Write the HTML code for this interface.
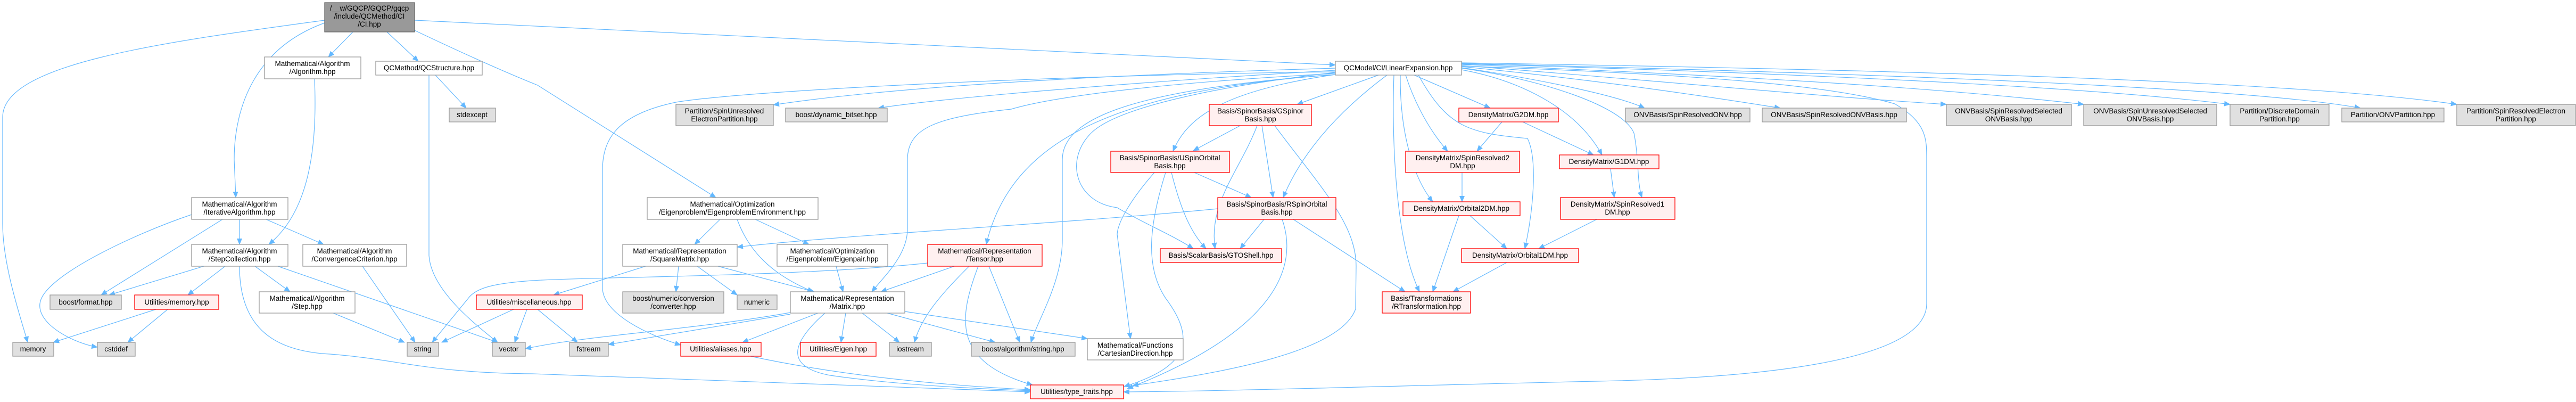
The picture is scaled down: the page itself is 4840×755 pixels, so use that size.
<!DOCTYPE html>
<html><head><meta charset="utf-8"><style>
html,body{margin:0;padding:0;background:#fff;}
svg{display:block;}
text{font-family:"Liberation Sans",sans-serif;font-size:13.5px;fill:#000;text-anchor:middle;}
.w{fill:#fff;stroke:#999;stroke-width:1.3;}
.g{fill:#e0e0e0;stroke:#999;stroke-width:1.3;}
.r{fill:#fff0f0;stroke:#f00;stroke-width:1.3;}
.m{fill:#999;stroke:#666;stroke-width:1.3;}
path{fill:none;stroke:#63b8ff;stroke-width:1.2;marker-end:url(#a);}
</style></head><body>
<svg width="4840" height="755" viewBox="0 0 4840 755" xmlns="http://www.w3.org/2000/svg">
<defs><marker id="a" markerUnits="userSpaceOnUse" markerWidth="12" markerHeight="10" refX="11" refY="5" orient="auto"><polygon points="0,0 12,5 0,10" fill="#63b8ff"/></marker></defs>
<g>
<!-- CI edges -->
<path d="M610,38 C300,80 5,120 5,220 L5,420 C5,500 40,600 52,643"/>
<path d="M610,43 C480,90 440,200 440,300 L443,371"/>
<path d="M663,60 L617,107"/>
<path d="M727,60 L786,115"/>
<path d="M779,57 C880,105 960,140 1010,160 L1345,371"/>
<path d="M779,38 L2509,122"/>
<!-- Iterative -->
<path d="M418,412 L190,554"/>
<path d="M360,403 C250,440 80,520 75,570 C70,610 140,645 183,652"/>
<path d="M450,412 L450,459"/>
<path d="M500,412 L608,459"/>
<path d="M591,148 C595,250 590,390 505,459"/>
<path d="M818,141 L876,203"/>
<path d="M806,141 L806,480 C810,540 880,600 935,643"/>
<!-- StepCollection -->
<path d="M383,500 L205,554"/>
<path d="M423,500 L353,554"/>
<path d="M479,500 L545,548"/>
<path d="M522,500 L935,643"/>
<path d="M450,500 C450,620 520,660 620,665 C750,675 800,700 1000,702 C1400,715 1700,730 1936,736"/>
<path d="M681,500 L780,643"/>
<path d="M626,588 L760,643"/>
<path d="M293,581 L100,643"/>
<path d="M315,581 L240,643"/>
<path d="M965,581 L830,643"/>
<path d="M990,581 L967,643"/>
<path d="M1010,581 L1085,643"/>
<path d="M1743,494 C1500,520 1100,520 1000,527 C930,532 895,540 880,560 L812,643"/>
<!-- SquareMatrix / EigenEnv -->
<path d="M1213,500 L1040,554"/>
<path d="M1275,500 L1270,548"/>
<path d="M1310,500 L1385,554"/>
<path d="M1349,500 L1530,548"/>
<path d="M1353,412 L1305,459"/>
<path d="M1419,412 L1520,459"/>
<path d="M1385,412 C1410,480 1460,520 1528,548"/>
<path d="M1571,500 L1584,548"/>
<!-- Tensor -->
<path d="M1793,500 L1655,548"/>
<path d="M1821,500 C1760,560 1730,600 1718,643"/>
<path d="M1858,500 L1916,643"/>
<path d="M1838,500 C1800,600 1790,680 1940,723"/>
<!-- Matrix -->
<path d="M1485,587 C1300,620 1100,630 987,655"/>
<path d="M1485,590 L1143,647"/>
<path d="M1537,588 L1395,643"/>
<path d="M1589,588 L1580,643"/>
<path d="M1620,588 L1690,643"/>
<path d="M1667,588 L1870,643"/>
<path d="M1700,585 L2043,636"/>
<path d="M1550,588 C1480,650 1480,690 1560,705 C1700,725 1850,730 1936,734"/>
<path d="M1410,669 C1600,710 1800,725 1936,732"/>
<!-- LinearExpansion left side -->
<path d="M2509,135 C2000,140 1400,170 1270,192 C1160,215 1132,260 1132,320 L1132,540 C1132,590 1220,630 1279,648"/>
<path d="M2509,138 C2100,160 1950,190 1900,205 C1760,220 1705,240 1705,300 L1705,430 C1705,480 1660,520 1638,548"/>
<path d="M2509,140 C2100,170 1900,260 1853,459"/>
<path d="M2509,140 C2100,170 1996,230 1996,300 L1996,450 C1996,530 1950,600 1937,643"/>
<path d="M2509,128 C2100,140 1700,160 1453,197"/>
<path d="M2509,132 C2200,150 1800,180 1650,203"/>
<path d="M2509,136 C2300,160 2100,200 2050,250 C2000,300 2020,380 2099,390 C2150,420 2200,440 2242,467"/>
<path d="M2509,140 C2300,170 2230,220 2204,284"/>
<path d="M2590,141 L2437,196"/>
<path d="M2606,141 C2500,220 2440,300 2411,371"/>
<path d="M2288,392 C2000,420 1600,440 1385,464"/>
<!-- Spinor bases -->
<path d="M2330,236 L2242,283"/>
<path d="M2371,236 L2392,371"/>
<path d="M2362,236 C2330,320 2270,380 2283,467"/>
<path d="M2395,236 C2480,350 2548,420 2548,500 L2547,580 C2520,660 2300,700 2128,724"/>
<path d="M2169,324 C2120,380 2100,420 2099,440 L2124,636"/>
<path d="M2190,324 C2160,420 2150,500 2190,560 C2250,640 2230,690 2112,726"/>
<path d="M2201,324 C2220,400 2240,440 2266,467"/>
<path d="M2244,324 L2351,371"/>
<path d="M2375,412 L2330,467"/>
<path d="M2430,412 L2640,548"/>
<path d="M2409,412 C2440,500 2400,620 2118,730"/>
<!-- Density matrices -->
<path d="M2619,141 C2615,250 2620,450 2667,548"/>
<path d="M2631,141 C2630,260 2660,340 2692,379"/>
<path d="M2641,141 C2660,200 2690,250 2720,284"/>
<path d="M2657,141 L2800,203"/>
<path d="M2665,141 C2720,240 2760,250 2870,260 C2890,300 2880,400 2865,467"/>
<path d="M2822,229 L2775,284"/>
<path d="M2861,229 L2994,291"/>
<path d="M2747,324 L2747,379"/>
<path d="M2741,405 L2692,548"/>
<path d="M2762,405 L2831,467"/>
<path d="M2831,493 L2730,548"/>
<path d="M3000,412 L2891,467"/>
<path d="M3026,317 L3033,371"/>
<path d="M2746,131 C2850,150 2960,200 3010,291"/>
<path d="M2746,128 C2900,150 3050,200 3070,250 C3080,300 3075,340 3085,371"/>
<!-- ONV / Partition -->
<path d="M2746,127 C2900,150 3040,180 3090,203"/>
<path d="M2746,125 C3000,150 3200,180 3345,203"/>
<path d="M2746,123 C3100,150 3400,180 3657,196"/>
<path d="M2746,121 C3200,140 3600,160 3915,196"/>
<path d="M2746,120 C3300,135 3900,160 4190,196"/>
<path d="M2746,119 C3400,135 4200,160 4435,203"/>
<path d="M2746,118 C3500,130 4300,150 4616,196"/>
<path d="M2746,124 C3200,140 3440,160 3560,195 C3620,230 3620,260 3620,300 L3620,570 C3620,680 3300,710 3000,716 C2600,725 2300,735 2111,736"/>
</g>
<!-- nodes -->
<g>
<rect class="m" x="610" y="5" width="169" height="55"/><text x="694" y="20">/__w/GQCP/GQCP/gqcp</text><text x="694" y="35">/include/QCMethod/CI</text><text x="694" y="50">/CI.hpp</text>
<rect class="w" x="497" y="107" width="181" height="41"/><text x="587" y="124">Mathematical/Algorithm</text><text x="587" y="139">/Algorithm.hpp</text>
<rect class="w" x="706" y="115" width="200" height="26"/><text x="806" y="132">QCMethod/QCStructure.hpp</text>
<rect class="g" x="844" y="203" width="87" height="26"/><text x="887" y="220">stdexcept</text>
<rect class="w" x="360" y="371" width="181" height="41"/><text x="450" y="388">Mathematical/Algorithm</text><text x="450" y="403">/IterativeAlgorithm.hpp</text>
<rect class="w" x="360" y="459" width="181" height="41"/><text x="450" y="476">Mathematical/Algorithm</text><text x="450" y="491">/StepCollection.hpp</text>
<rect class="w" x="569" y="459" width="195" height="41"/><text x="666" y="476">Mathematical/Algorithm</text><text x="666" y="491">/ConvergenceCriterion.hpp</text>
<rect class="g" x="94" y="554" width="134" height="27"/><text x="161" y="572">boost/format.hpp</text>
<rect class="r" x="253" y="554" width="158" height="27"/><text x="332" y="572">Utilities/memory.hpp</text>
<rect class="w" x="487" y="548" width="180" height="40"/><text x="577" y="565">Mathematical/Algorithm</text><text x="577" y="580">/Step.hpp</text>
<rect class="g" x="24" y="643" width="77" height="26"/><text x="62" y="660">memory</text>
<rect class="g" x="183" y="643" width="71" height="26"/><text x="218" y="660">cstddef</text>
<rect class="g" x="765" y="643" width="59" height="26"/><text x="794" y="660">string</text>
<rect class="g" x="925" y="643" width="62" height="26"/><text x="956" y="660">vector</text>
<rect class="r" x="895" y="554" width="199" height="27"/><text x="994" y="572">Utilities/miscellaneous.hpp</text>
<rect class="g" x="1270" y="196" width="183" height="40"/><text x="1361" y="213">Partition/SpinUnresolved</text><text x="1361" y="228">ElectronPartition.hpp</text>
<rect class="g" x="1476" y="203" width="191" height="26"/><text x="1571" y="220">boost/dynamic_bitset.hpp</text>
<rect class="w" x="1216" y="371" width="321" height="41"/><text x="1376" y="388">Mathematical/Optimization</text><text x="1376" y="403">/Eigenproblem/EigenproblemEnvironment.hpp</text>
<rect class="w" x="1170" y="459" width="215" height="41"/><text x="1277" y="476">Mathematical/Representation</text><text x="1277" y="491">/SquareMatrix.hpp</text>
<rect class="w" x="1460" y="459" width="208" height="41"/><text x="1564" y="476">Mathematical/Optimization</text><text x="1564" y="491">/Eigenproblem/Eigenpair.hpp</text>
<rect class="r" x="1743" y="459" width="215" height="41"/><text x="1850" y="476">Mathematical/Representation</text><text x="1850" y="491">/Tensor.hpp</text>
<rect class="g" x="1170" y="548" width="190" height="40"/><text x="1265" y="565">boost/numeric/conversion</text><text x="1265" y="580">/converter.hpp</text>
<rect class="g" x="1385" y="554" width="75" height="27"/><text x="1422" y="572">numeric</text>
<rect class="w" x="1485" y="548" width="215" height="40"/><text x="1592" y="565">Mathematical/Representation</text><text x="1592" y="580">/Matrix.hpp</text>
<rect class="g" x="1070" y="643" width="73" height="26"/><text x="1106" y="660">fstream</text>
<rect class="r" x="1279" y="643" width="151" height="26"/><text x="1354" y="660">Utilities/aliases.hpp</text>
<rect class="r" x="1504" y="643" width="142" height="26"/><text x="1575" y="660">Utilities/Eigen.hpp</text>
<rect class="g" x="1671" y="643" width="79" height="26"/><text x="1710" y="660">iostream</text>
<rect class="g" x="1825" y="643" width="195" height="26"/><text x="1922" y="660">boost/algorithm/string.hpp</text>
<rect class="r" x="1936" y="723" width="175" height="26"/><text x="2023" y="740">Utilities/type_traits.hpp</text>
<rect class="w" x="2509" y="115" width="237" height="26"/><text x="2627" y="132">QCModel/CI/LinearExpansion.hpp</text>
<rect class="r" x="2272" y="196" width="192" height="40"/><text x="2368" y="213">Basis/SpinorBasis/GSpinor</text><text x="2368" y="228">Basis.hpp</text>
<rect class="r" x="2087" y="284" width="223" height="40"/><text x="2198" y="301">Basis/SpinorBasis/USpinOrbital</text><text x="2198" y="316">Basis.hpp</text>
<rect class="r" x="2288" y="371" width="222" height="41"/><text x="2399" y="388">Basis/SpinorBasis/RSpinOrbital</text><text x="2399" y="403">Basis.hpp</text>
<rect class="r" x="2741" y="203" width="187" height="26"/><text x="2834" y="220">DensityMatrix/G2DM.hpp</text>
<rect class="r" x="2641" y="284" width="214" height="40"/><text x="2748" y="301">DensityMatrix/SpinResolved2</text><text x="2748" y="316">DM.hpp</text>
<rect class="r" x="2930" y="291" width="187" height="26"/><text x="3023" y="308">DensityMatrix/G1DM.hpp</text>
<rect class="r" x="2636" y="379" width="220" height="26"/><text x="2746" y="396">DensityMatrix/Orbital2DM.hpp</text>
<rect class="r" x="2932" y="371" width="215" height="41"/><text x="3039" y="388">DensityMatrix/SpinResolved1</text><text x="3039" y="403">DM.hpp</text>
<rect class="r" x="2180" y="467" width="228" height="26"/><text x="2294" y="484">Basis/ScalarBasis/GTOShell.hpp</text>
<rect class="r" x="2746" y="467" width="220" height="26"/><text x="2856" y="484">DensityMatrix/Orbital1DM.hpp</text>
<rect class="r" x="2597" y="548" width="166" height="40"/><text x="2680" y="565">Basis/Transformations</text><text x="2680" y="580">/RTransformation.hpp</text>
<rect class="w" x="2043" y="636" width="180" height="40"/><text x="2133" y="653">Mathematical/Functions</text><text x="2133" y="668">/CartesianDirection.hpp</text>
<rect class="g" x="3054" y="203" width="234" height="26"/><text x="3171" y="220">ONVBasis/SpinResolvedONV.hpp</text>
<rect class="g" x="3311" y="203" width="271" height="26"/><text x="3446" y="220">ONVBasis/SpinResolvedONVBasis.hpp</text>
<rect class="g" x="3657" y="196" width="235" height="40"/><text x="3774" y="213">ONVBasis/SpinResolvedSelected</text><text x="3774" y="228">ONVBasis.hpp</text>
<rect class="g" x="3915" y="196" width="250" height="40"/><text x="4040" y="213">ONVBasis/SpinUnresolvedSelected</text><text x="4040" y="228">ONVBasis.hpp</text>
<rect class="g" x="4190" y="196" width="186" height="40"/><text x="4283" y="213">Partition/DiscreteDomain</text><text x="4283" y="228">Partition.hpp</text>
<rect class="g" x="4400" y="203" width="192" height="26"/><text x="4496" y="220">Partition/ONVPartition.hpp</text>
<rect class="g" x="4616" y="196" width="223" height="40"/><text x="4727" y="213">Partition/SpinResolvedElectron</text><text x="4727" y="228">Partition.hpp</text>
</g>
</svg>
</body></html>
